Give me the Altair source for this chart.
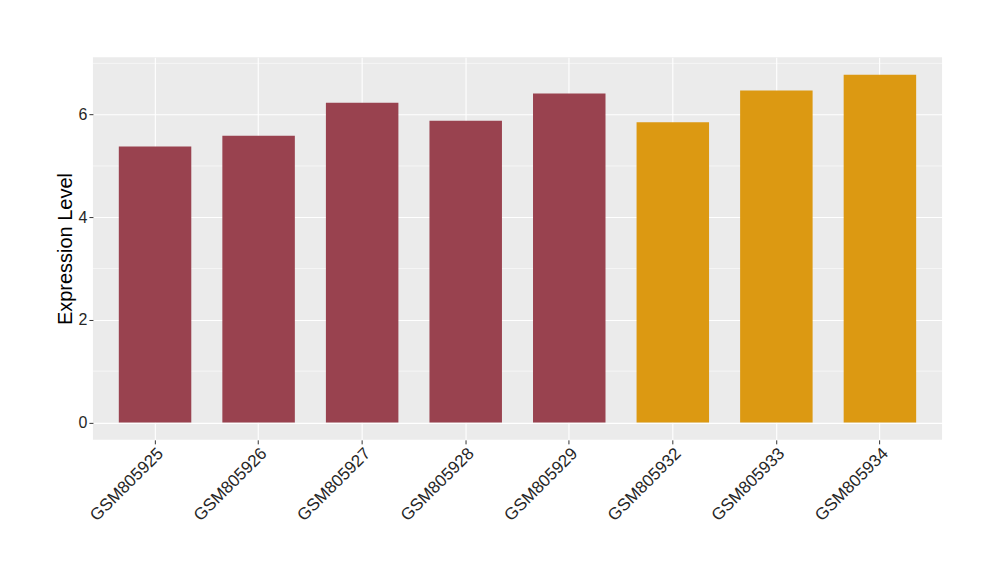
import altair as alt
import pandas as pd

samples = ["GSM805925", "GSM805926", "GSM805927", "GSM805928", "GSM805929",
           "GSM805932", "GSM805933", "GSM805934"]
values = [5.38, 5.59, 6.23, 5.88, 6.41, 5.85, 6.47, 6.78]
groups = ["A", "A", "A", "A", "A", "B", "B", "B"]
group_colors = ["#99424F", "#DC9912"]
minor_ticks = [1, 3, 5, 7]
major_ticks = [0, 2, 4, 6]

df = pd.DataFrame({"sample": samples, "value": values, "group": groups})
minor_df = pd.DataFrame({"m": minor_ticks})

ydom = [-0.339, 7.119]
font = "Liberation Sans"

xscale = alt.Scale(domain=samples, paddingInner=0.3, paddingOuter=0.25)
yscale = alt.Scale(domain=ydom, nice=False, zero=False)

minor = alt.Chart(minor_df).mark_rule(color="white", strokeWidth=0.55).encode(
    y=alt.Y("m:Q", scale=yscale)
)

bars = alt.Chart(df).mark_bar().encode(
    x=alt.X("sample:N", scale=xscale, sort=samples,
            axis=alt.Axis(title=None, labelAngle=-45, labelAlign="right",
                          labelBaseline="top", labelFontSize=17, labelColor="#262626",
                          labelFont=font, tickColor="#333333", tickSize=4,
                          domain=False, grid=True, gridColor="white", gridWidth=1.1,
                          bandPosition=0.5, labelPadding=1)),
    y=alt.Y("value:Q", scale=yscale,
            axis=alt.Axis(title="Expression Level", values=major_ticks, format="d",
                          titleFontSize=20, titleFont=font, titleFontWeight="normal",
                          titleColor="black", titlePadding=3,
                          labelFontSize=16, labelColor="#262626", labelFont=font,
                          tickColor="#333333", tickSize=4, domain=False,
                          grid=True, gridColor="white", gridWidth=1.1, labelPadding=2)),
    y2=alt.datum(0),
    color=alt.Color("group:N", scale=alt.Scale(domain=["A", "B"], range=group_colors),
                    legend=None),
)

chart = alt.layer(minor, bars).properties(
    width=850, height=383,
    autosize=alt.AutoSizeParams(type="none"),
    padding={"left": 85, "top": 49, "right": 50, "bottom": 132},
).configure_view(fill="#EBEBEB", stroke=None)

chart.save("out.html", embed_options={"renderer": "svg", "actions": False})
